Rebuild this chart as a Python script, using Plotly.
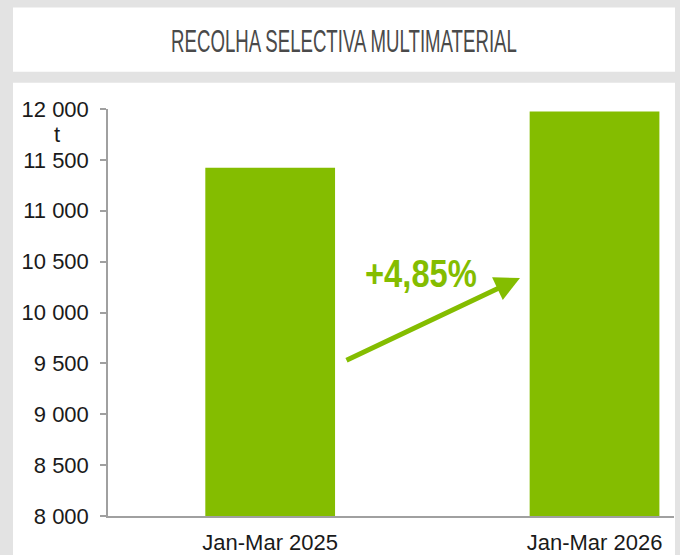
import plotly.graph_objects as go

categories = ["Jan-Mar 2025", "Jan-Mar 2026"]
values = [11422, 11976]
y_ticks = [8000, 8500, 9000, 9500, 10000, 10500, 11000, 11500, 12000]
title_text = "RECOLHA SELECTIVA MULTIMATERIAL"
unit_text = "t"
change_text = "+4,85%"

GREEN = "#84bd00"
GRAY_BG = "#e3e3e3"
AXIS = "#a0a0a0"

fig = go.Figure(go.Bar(x=categories, y=values, marker=dict(color=GREEN, line=dict(width=0)),
                       width=0.4, hoverinfo="skip"))

W, H = 680, 555
L, R, T, B = 108, 6, 109.3, 39.3
pw, ph = W - L - R, H - T - B

def px(x):
    return (x - L) / pw

def py(y):
    return (H - B - y) / ph

fig.update_layout(
    width=W, height=H,
    margin=dict(l=L, r=R, t=T, b=B, pad=0),
    paper_bgcolor=GRAY_BG, plot_bgcolor="white",
    separators=", ",
    showlegend=False,
    font=dict(family="Liberation Sans, Arial", size=22, color="#1a1a1a"),
    xaxis=dict(type="category", range=[-0.5, 1.245], showgrid=False, zeroline=False,
               showline=True, linecolor=AXIS, linewidth=1.5, ticks="",
               ticklabelstandoff=6, automargin=False,
               tickfont=dict(size=22, color="#1a1a1a")),
    yaxis=dict(range=[8000, 12000], tickvals=y_ticks, tickformat=",.0f", showgrid=False,
               zeroline=False, showline=True, linecolor=AXIS, linewidth=1.5,
               ticks="outside", ticklen=6, tickcolor=AXIS, tickwidth=1.5,
               ticklabelstandoff=7, automargin=False,
               tickfont=dict(size=22, color="#1a1a1a")),
    shapes=[
        dict(type="rect", xref="paper", yref="paper", x0=px(13), x1=px(675), y0=py(72), y1=py(8),
             fillcolor="white", line=dict(width=0), layer="below"),
        dict(type="rect", xref="paper", yref="paper", x0=px(13), x1=px(675), y0=py(600), y1=py(83),
             fillcolor="white", line=dict(width=0), layer="below"),
    ],
    annotations=[
        dict(text=title_text, xref="paper", yref="paper", x=px(344), y=py(41.5), showarrow=False,
             xanchor="center", yanchor="middle",
             font=dict(family="Liberation Sans Narrow, Liberation Sans", size=32, color="#4a4a4a")),
        dict(text=unit_text, xref="paper", yref="paper", x=px(57), y=py(135), showarrow=False,
             xanchor="center", yanchor="middle", font=dict(size=22, color="#1a1a1a")),
        dict(text="<b>" + change_text + "</b>", xref="paper", yref="paper", x=px(421), y=py(274),
             showarrow=False, xanchor="center", yanchor="middle",
             font=dict(family="Liberation Sans Narrow, Liberation Sans", size=38, color=GREEN)),
        dict(text="", xref="paper", yref="paper",
             x=px(520), y=py(278), ax=345 - 520, ay=361 - 278, showarrow=True,
             arrowhead=2, arrowsize=1.0, arrowwidth=5, arrowcolor=GREEN, standoff=0, startstandoff=0),
    ],
)

post = """
document.documentElement.style.margin = '0';
document.body.style.margin = '0';
document.body.style.padding = '0';
var gd = document.getElementById('{plot_id}');
function squeeze(){
  gd.querySelectorAll('text.annotation-text').forEach(function(t){
    var s = t.textContent;
    var target = null;
    if (s.indexOf('RECOLHA') === 0) target = 346;
    else if (s.indexOf('+4') === 0) target = 112;
    if (target){
      t.style.transform = '';
      var w = t.getBBox().width;
      if (w > 0){
        t.style.transformBox = 'fill-box';
        t.style.transformOrigin = 'center';
        t.style.transform = 'scaleX(' + (target / w) + ')';
      }
    }
  });
}
squeeze();
gd.on('plotly_afterplot', squeeze);
"""

fig.write_html("out.html", post_script=post, config={"displayModeBar": False})
